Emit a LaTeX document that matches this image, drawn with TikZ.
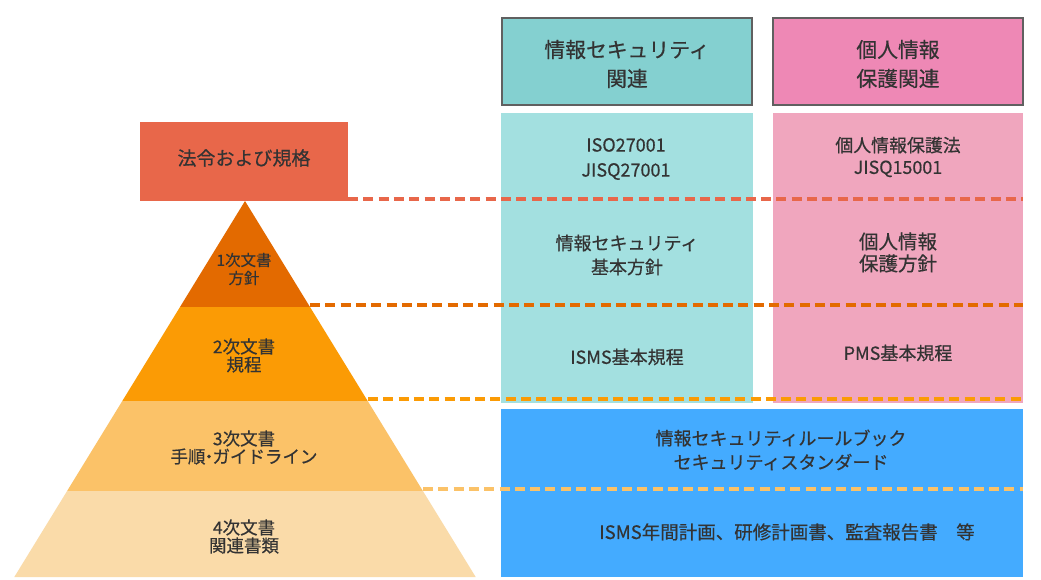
\documentclass[tikz,border=0pt]{standalone}
\usepackage{fontspec}
\setmainfont{Noto Sans CJK JP}[FakeBold=0.5]
\definecolor{txt}{HTML}{333333}
\definecolor{redbox}{HTML}{E8674A}
\definecolor{lvA}{HTML}{E36A00}
\definecolor{lvB}{HTML}{FB9B05}
\definecolor{lvC}{HTML}{FBC268}
\definecolor{lvD}{HTML}{FADBA9}
\definecolor{tealH}{HTML}{84D0D0}
\definecolor{tealL}{HTML}{A3E0E0}
\definecolor{pinkH}{HTML}{EE88B5}
\definecolor{pinkL}{HTML}{F0A6BE}
\definecolor{blueB}{HTML}{44ABFF}
\definecolor{hdrline}{HTML}{606060}
\begin{document}
\begin{tikzpicture}[x=1pt,y=-1pt,
  lbl/.style={text=txt, align=center, inner sep=0pt},
  hdr/.style={lbl, font=\fontsize{20.8}{29}\selectfont},
  body/.style={lbl, font=\fontsize{18}{24}\selectfont},
  pyr/.style={lbl, font=\fontsize{17.5}{18}\selectfont},
  hbox/.style={draw=hdrline, line width=2pt, minimum width=250pt, minimum height=87pt, inner sep=0pt},
  pbox/.style={draw=none, inner sep=0pt},
  lvl/.style={line width=3.2pt, dash pattern=on 10pt off 5.3pt}]
\useasboundingbox (0,0) rectangle (1041,580);
\fill[white] (0,0) rectangle (1041,580);

% column headers
\node[hbox, fill=tealH] (hteal) at (627,61.5) {};
\node[hbox, fill=pinkH] (hpink) at (898,61.5) {};
\node[hdr] (hteallbl) at (627,64) {情報セキュリティ\\関連};
\node[hdr] (hpinklbl) at (898,64) {個人情報\\保護関連};

% columns
\node[pbox, fill=tealL, minimum width=252pt, minimum height=290pt] (cteal) at (627,258) {};
\node[pbox, fill=pinkL, minimum width=250pt, minimum height=290pt] (cpink) at (898,258) {};
\node[pbox, fill=blueB, minimum width=522pt, minimum height=168pt] (cblue) at (762,493) {};

% law box
\node[pbox, fill=redbox, minimum width=208pt, minimum height=79pt] (law) at (244,161.5) {};
\node[lbl, font=\fontsize{19}{24}\selectfont] (lawlbl) at (244,158) {法令および規格};

% pyramid
\coordinate (apex) at (245,201);
\coordinate (l1l) at (180,307);   \coordinate (l1r) at (310,307);
\coordinate (l2l) at (122.3,401); \coordinate (l2r) at (367.7,401);
\coordinate (l3l) at (67.1,491);  \coordinate (l3r) at (422.9,491);
\coordinate (l4l) at (14.3,577);  \coordinate (l4r) at (475.7,577);
\fill[lvA] (apex) -- (l1r) -- (l1l) -- cycle;
\fill[lvB] (l1l) -- (l1r) -- (l2r) -- (l2l) -- cycle;
\fill[lvC] (l2l) -- (l2r) -- (l3r) -- (l3l) -- cycle;
\fill[lvD] (l3l) -- (l3r) -- (l4r) -- (l4l) -- cycle;

\node[lbl, font=\fontsize{15.5}{18}\selectfont] (p1) at (244,269) {1次文書\\方針};
\node[pyr] (p2) at (244,355.5) {2次文書\\規程};
\node[pyr] (p3) at (244,447.5) {3次文書\\手順{\kern-0.3em}・{\kern-0.3em}ガイドライン};
\node[pyr] (p4) at (244,536.5) {4次文書\\関連書類};

% column texts
\node[lbl, font=\fontsize{18}{25}\selectfont] (t1) at (626,159) {ISO27001\\JISQ27001};
\node[lbl, font=\fontsize{17.9}{22}\selectfont] (k1) at (898,157) {個人情報保護法\\JISQ15001};
\node[body] (t2) at (627,255) {情報セキュリティ\\基本方針};
\node[lbl, font=\fontsize{19.5}{22}\selectfont] (k2) at (898,252.5) {個人情報\\保護方針};
\node[body] (t3) at (627,357) {ISMS基本規程};
\node[body] (k3) at (898,353) {PMS基本規程};
\node[body] (b1) at (781,450) {情報セキュリティルールブック\\セキュリティスタンダード};
\node[lbl, font=\fontsize{18.5}{24}\selectfont] (b2) at (787,532) {ISMS年間計画、研修計画書、監査報告書　等};

% level lines
\coordinate (d1s) at (348,199);  \coordinate (d1e) at (1023,199);
\coordinate (d2s) at (310,305);  \coordinate (d2e) at (1023,305);
\coordinate (d3s) at (368,399);  \coordinate (d3e) at (1023,399);
\coordinate (d4s) at (423,489);  \coordinate (d4e) at (1023,489);
\draw[lvl, redbox] (d1s) -- (d1e);
\draw[lvl, lvA] (d2s) -- (d2e);
\draw[lvl, lvB] (d3s) -- (d3e);
\draw[lvl, lvC] (d4s) -- (d4e);
\end{tikzpicture}
\end{document}
